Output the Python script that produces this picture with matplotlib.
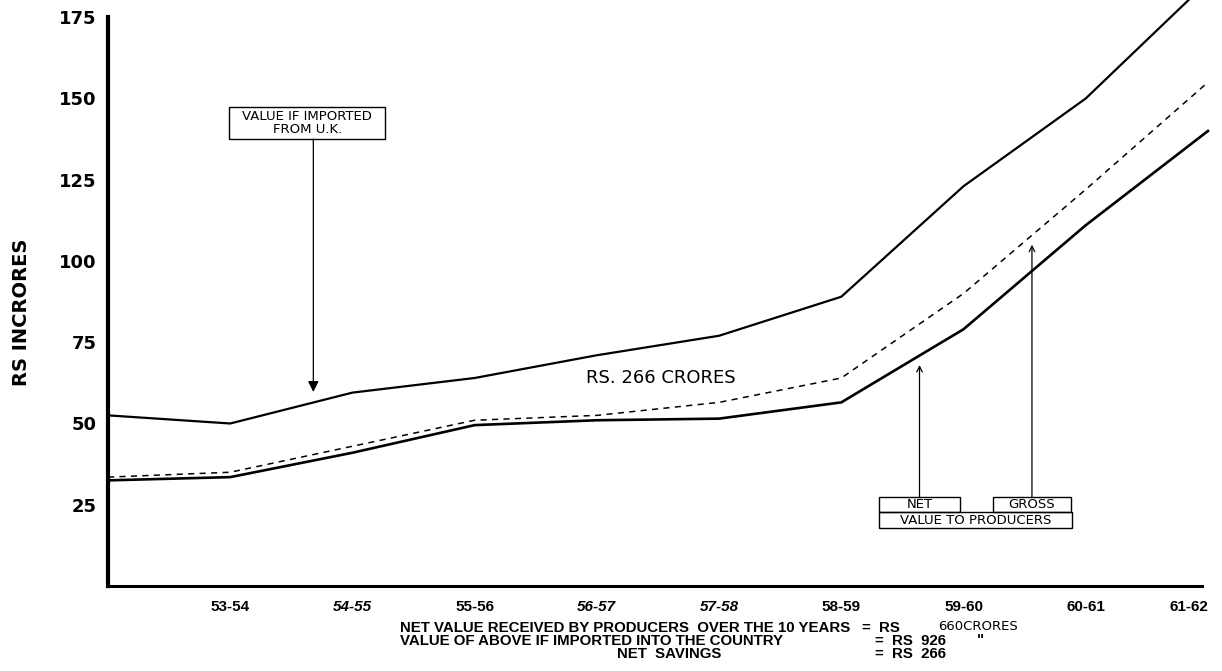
import matplotlib.pyplot as plt
from matplotlib.patches import Rectangle

# years 52-53 .. 61-62, first one sits on the y axis
years = ['52-53', '53-54', '54-55', '55-56', '56-57', '57-58', '58-59', '59-60', '60-61', '61-62']
italic_years = ['54-55', '56-57', '57-58']

uk_value = [52.5, 50, 59.5, 64, 71, 77, 89, 123, 150, 186]
gross_value = [33.5, 35, 43, 51, 52.5, 56.5, 64, 90, 122, 155]
net_value = [32.5, 33.5, 41, 49.5, 51, 51.5, 56.5, 79, 111, 140]

y_ticks = [25, 50, 75, 100, 125, 150, 175]

W, H = 1222, 671
fig = plt.figure(figsize=(W / 100, H / 100), dpi=100)
ax = fig.add_axes([108 / W, (H - 586) / H, (W - 108) / W, 586 / H])

x = list(range(len(years)))
ax.plot(x, uk_value, color='black', lw=1.6, solid_joinstyle='miter')
ax.plot(x, net_value, color='black', lw=1.9, solid_joinstyle='miter')
ax.plot(x, gross_value, color='black', lw=1.1, linestyle=(0, (4, 3.5)))

ax.set_xlim(0, 9.115)
ax.set_ylim(0, 180.3)

for s in ['top', 'right']:
    ax.spines[s].set_visible(False)
ax.spines['left'].set_linewidth(3)
ax.spines['bottom'].set_linewidth(2.2)
ax.spines['left'].set_bounds(0, 175)
ax.spines['bottom'].set_bounds(0, 8.95)

ax.set_yticks(y_ticks)
ax.set_yticklabels([str(v) for v in y_ticks], fontsize=13, fontweight='bold',
                   family='DejaVu Sans')
ax.set_xticks(x[1:])
ax.set_xticklabels(years[1:], fontsize=11, fontweight='bold', family='Liberation Sans')
xlabs = ax.get_xticklabels()
for lab in xlabs:
    if lab.get_text() in italic_years:
        lab.set_style('italic')
# last label sits at the right edge, keep it inside the picture
xlabs[-1].set_horizontalalignment('right')
ax.tick_params(axis='both', length=0)
ax.tick_params(axis='y', pad=8)
ax.tick_params(axis='x', pad=10)

fig.text(22 / W, 1 - 312 / H, 'RS INCRORES', rotation=90, ha='center', va='center',
         fontsize=14, fontweight='bold', family='DejaVu Sans')

# value if imported box + arrow
ax.add_patch(Rectangle((0.99, 137.5), 1.28, 9.9, fill=False, lw=1, ec='black'))
ax.text(1.63, 142.5, 'VALUE IF IMPORTED\nFROM U.K.', ha='center', va='center',
        fontsize=9.5, linespacing=1.0, family='DejaVu Sans')
ax.annotate('', xy=(1.68, 59.7), xytext=(1.68, 137.5),
            arrowprops=dict(arrowstyle='-|>', lw=0.9, color='black',
                            mutation_scale=16, shrinkA=0, shrinkB=0))

ax.text(4.52, 64, 'RS. 266 CRORES', ha='center', va='center', fontsize=13,
        family='DejaVu Sans')

# net / gross boxes
ax.add_patch(Rectangle((6.31, 22.8), 0.66, 4.6, fill=False, lw=1, ec='black'))
ax.add_patch(Rectangle((7.24, 22.8), 0.64, 4.6, fill=False, lw=1, ec='black'))
ax.add_patch(Rectangle((6.31, 17.8), 1.58, 5.0, fill=False, lw=1, ec='black'))
ax.text(6.64, 25.1, 'NET', ha='center', va='center', fontsize=9.5, family='DejaVu Sans')
ax.text(7.56, 25.1, 'GROSS', ha='center', va='center', fontsize=9.5, family='DejaVu Sans')
ax.text(7.1, 20.3, 'VALUE TO PRODUCERS', ha='center', va='center', fontsize=9.5,
        family='DejaVu Sans')
ax.annotate('', xy=(6.64, 68), xytext=(6.64, 27.4),
            arrowprops=dict(arrowstyle='->', lw=0.9, color='black',
                            mutation_scale=10, shrinkA=0, shrinkB=0))
ax.annotate('', xy=(7.56, 105), xytext=(7.56, 27.4),
            arrowprops=dict(arrowstyle='->', lw=0.9, color='black',
                            mutation_scale=10, shrinkA=0, shrinkB=0))

# summary text under the chart
def ftext(px, py, s, **kw):
    fig.text(px / W, 1 - py / H, s, va='center', fontsize=10.8, fontweight='bold',
             family='Liberation Sans', **kw)

ftext(400, 628, 'NET VALUE RECEIVED BY PRODUCERS  OVER THE 10 YEARS')
ftext(862, 628, '=  RS')
fig.text(938 / W, 1 - 627 / H, '660CRORES', va='center', fontsize=9.5, family='DejaVu Sans')
ftext(400, 641, 'VALUE OF ABOVE IF IMPORTED INTO THE COUNTRY')
ftext(875, 641, '=  RS  926')
ftext(977, 640, '"')
ftext(617, 654, 'NET  SAVINGS')
ftext(875, 654, '=  RS  266')

fig.savefig('out.png', dpi=100)
